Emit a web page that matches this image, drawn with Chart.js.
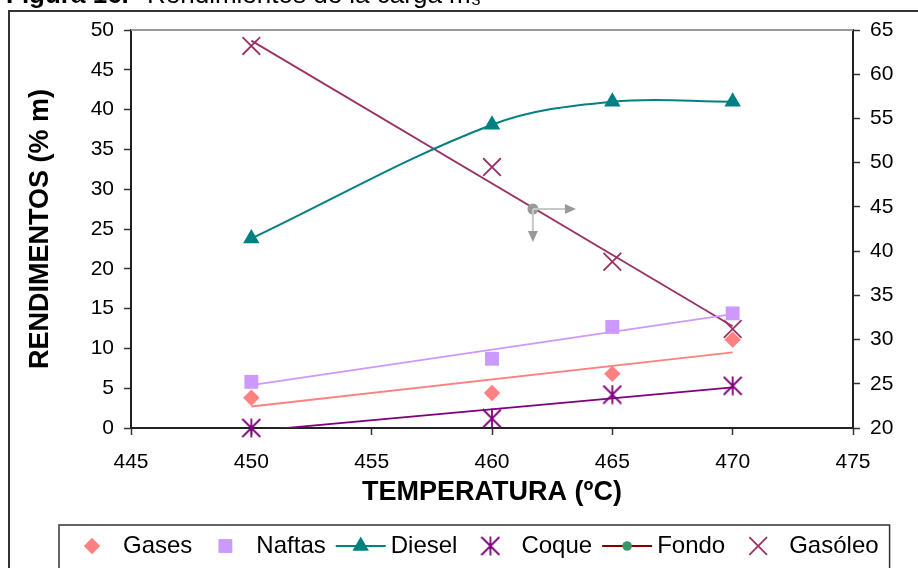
<!DOCTYPE html>
<html>
<head>
<meta charset="utf-8">
<script src="https://cdn.jsdelivr.net/npm/chart.js@4.4.1/dist/chart.umd.min.js"></script>
<style>
  html, body { margin: 0; padding: 0; background: #fff; }
  canvas { display: block; }
</style>
</head>
<body>
<canvas id="grafico" width="918" height="568"></canvas>
<script>
// valores (eje izq. % m, eje der. gasoleo)
const temps = [450, 460, 465, 470];
const gases = [3.8, 4.4, 6.8, 11.1];
const naftas = [5.8, 8.7, 12.7, 14.4];
const diesel = [23.8, 38.1, 41.0, 41.0];
const coque = [0, 1.2, 4.2, 5.3];
const fondoTemps = [450];
const fondo = [3.7];
const gasoleo = [63.2, 49.5, 38.8, 31.2];

// lineas de tendencia (extremos leidos)
const trendTemps = [450, 470];
const gasesTrend = [2.7, 9.5];
const naftasTrend = [5.4, 14.3];
const coqueTrend = [-0.4, 5.1];
const gasoleoTrend = [63.8, 31.5];

// el puntero gris que aparece en la captura
const cursorX = [461.7];
const cursorY = [27.5];

const FUENTE = "'Liberation Sans', Arial, sans-serif";

const pts = (xs, ys) => xs.map((x, i) => ({x: x, y: ys[i]}));

// asterisco de Excel: X + barra vertical
const asterisco = document.createElement('canvas');
asterisco.width = 20; asterisco.height = 20;
(function () {
  const c = asterisco.getContext('2d');
  c.strokeStyle = '#800080';
  c.lineWidth = 1.8;
  c.beginPath();
  c.moveTo(1, 1); c.lineTo(19, 19);
  c.moveTo(19, 1); c.lineTo(1, 19);
  c.moveTo(10, 0.5); c.lineTo(10, 19.5);
  c.stroke();
})();

function dibujarMarca(ctx, estilo, r, relleno, borde, x, y) {
  ctx.save();
  if (estilo instanceof HTMLCanvasElement) {
    ctx.drawImage(estilo, x - estilo.width / 2, y - estilo.height / 2);
    ctx.restore();
    return;
  }
  ctx.fillStyle = relleno;
  ctx.strokeStyle = borde;
  ctx.lineWidth = 1.8;
  ctx.beginPath();
  if (estilo === 'rectRot') {
    ctx.moveTo(x - r, y); ctx.lineTo(x, y - r); ctx.lineTo(x + r, y); ctx.lineTo(x, y + r);
    ctx.closePath(); ctx.fill();
  } else if (estilo === 'rect') {
    const s = r * Math.SQRT1_2;
    ctx.rect(x - s, y - s, 2 * s, 2 * s); ctx.fill();
  } else if (estilo === 'triangle') {
    ctx.moveTo(x, y - r); ctx.lineTo(x + 0.866 * r, y + 0.5 * r); ctx.lineTo(x - 0.866 * r, y + 0.5 * r);
    ctx.closePath(); ctx.fill();
  } else if (estilo === 'circle') {
    ctx.arc(x, y, r, 0, Math.PI * 2); ctx.fill();
  } else if (estilo === 'crossRot') {
    const d = r * Math.SQRT1_2;
    ctx.moveTo(x - d, y - d); ctx.lineTo(x + d, y + d);
    ctx.moveTo(x + d, y - d); ctx.lineTo(x - d, y + d);
    ctx.stroke();
  }
  ctx.restore();
}

const marco = {
  id: 'marco',
  beforeDraw(chart) {
    const ctx = chart.ctx;
    ctx.save();
    ctx.fillStyle = '#fff';
    ctx.fillRect(0, 0, chart.width, chart.height);
    // titulo de la figura, cortado arriba
    ctx.fillStyle = '#000';
    ctx.textBaseline = 'alphabetic';
    ctx.font = 'bold 26px ' + FUENTE;
    ctx.fillText('Figura 16.', 6, 3);
    ctx.font = '26px ' + FUENTE;
    ctx.fillText('Rendimientos de la carga m\u2083', 147, 3);
    // marco exterior
    ctx.strokeStyle = '#333';
    ctx.lineWidth = 2;
    ctx.beginPath();
    ctx.moveTo(9, chart.height + 5);
    ctx.lineTo(9, 11);
    ctx.lineTo(chart.width + 5, 11);
    ctx.stroke();
    ctx.restore();
  },
  beforeDatasetsDraw(chart) {
    const {ctx, chartArea: a} = chart;
    ctx.save();
    ctx.strokeStyle = '#999';
    ctx.lineWidth = 2;
    ctx.beginPath();
    ctx.moveTo(a.left, a.top);
    ctx.lineTo(a.right, a.top);
    ctx.stroke();
    ctx.restore();
  },
  afterDatasetsDraw(chart) {
    // flechas del puntero gris
    const ctx = chart.ctx;
    chart.data.datasets.forEach((ds, i) => {
      if (!ds.cursor) return;
      const p = chart.getDatasetMeta(i).data[0];
      ctx.save();
      ctx.strokeStyle = '#c8c8c8';
      ctx.fillStyle = '#999';
      ctx.lineWidth = 2;
      ctx.beginPath();
      ctx.moveTo(p.x, p.y); ctx.lineTo(p.x + 32, p.y);
      ctx.moveTo(p.x, p.y); ctx.lineTo(p.x, p.y + 22);
      ctx.stroke();
      ctx.beginPath();
      ctx.moveTo(p.x + 32, p.y - 5); ctx.lineTo(p.x + 43, p.y); ctx.lineTo(p.x + 32, p.y + 5);
      ctx.closePath(); ctx.fill();
      ctx.beginPath();
      ctx.moveTo(p.x - 5, p.y + 22); ctx.lineTo(p.x, p.y + 33); ctx.lineTo(p.x + 5, p.y + 22);
      ctx.closePath(); ctx.fill();
      ctx.restore();
    });
  },
  afterDraw(chart) {
    // leyenda con recuadro
    const ctx = chart.ctx;
    const izq = 59, arriba = 525, yc = 546;
    ctx.save();
    ctx.font = '24px ' + FUENTE;
    ctx.textBaseline = 'middle';
    ctx.fillStyle = '#000';
    let x = izq;
    chart.data.datasets.forEach(ds => {
      if (!ds.leyenda) return;
      let tx;
      if (ds.leyenda === 'punto') {
        const cx = x + 33;
        dibujarMarca(ctx, ds.pointStyle, ds.pointRadius, ds.pointBackgroundColor, ds.pointBorderColor, cx, yc);
        tx = cx + 31;
      } else {
        ctx.save();
        ctx.strokeStyle = ds.borderColor;
        ctx.lineWidth = 2;
        ctx.beginPath();
        ctx.moveTo(x + 10, yc); ctx.lineTo(x + 60, yc);
        ctx.stroke();
        ctx.restore();
        dibujarMarca(ctx, ds.pointStyle, ds.pointRadius, ds.pointBackgroundColor, ds.pointBorderColor, x + 35, yc);
        tx = x + 65;
      }
      ctx.fillStyle = '#000';
      ctx.fillText(ds.label, tx, yc);
      x = tx + ctx.measureText(ds.label).width;
    });
    ctx.strokeStyle = '#333';
    ctx.lineWidth = 1.5;
    ctx.strokeRect(izq, arriba, x + 11 - izq, 50);
    ctx.restore();
  }
};

const marcas = (label, ys, estilo, r, color, leyenda) => ({
  label: label,
  data: pts(temps, ys),
  showLine: false,
  pointStyle: estilo,
  pointRadius: r,
  pointBackgroundColor: color,
  pointBorderColor: color,
  pointBorderWidth: estilo === 'crossRot' ? 1.8 : 0,
  clip: false,
  leyenda: leyenda
});

const tendencia = (ys, color, eje) => ({
  label: '',
  data: pts(trendTemps, ys),
  yAxisID: eje || 'y',
  borderColor: color,
  borderWidth: 1.8,
  pointRadius: 0,
  tension: 0
});

new Chart(document.getElementById('grafico'), {
  type: 'line',
  data: {
    datasets: [
      marcas('Gases', gases, 'rectRot', 8.2, '#FF8080', 'punto'),
      marcas('Naftas', naftas, 'rect', 9.8, '#CC99FF', 'punto'),
      {
        label: 'Diesel',
        data: pts(temps, diesel),
        borderColor: '#008080',
        borderWidth: 2,
        tension: 0.35,
        pointStyle: 'triangle',
        pointRadius: 9.5,
        pointBackgroundColor: '#008080',
        pointBorderColor: '#008080',
        pointBorderWidth: 0,
        clip: false,
        leyenda: 'linea'
      },
      marcas('Coque', coque, asterisco, 10, '#800080', 'punto'),
      {
        label: 'Fondo',
        data: pts(fondoTemps, fondo),
        borderColor: '#800000',
        borderWidth: 2,
        pointStyle: 'circle',
        pointRadius: 4.8,
        pointBackgroundColor: '#339966',
        pointBorderColor: '#339966',
        pointBorderWidth: 0,
        clip: false,
        leyenda: 'linea'
      },
      Object.assign(marcas('Gasóleo', gasoleo, 'crossRot', 12.5, '#993366', 'punto'), {yAxisID: 'y2'}),
      {
        label: '',
        data: pts(cursorX, cursorY),
        showLine: false,
        pointStyle: 'circle',
        pointRadius: 5.5,
        pointBackgroundColor: '#999',
        pointBorderWidth: 0,
        cursor: true
      },
      tendencia(gasesTrend, '#FF8080'),
      tendencia(naftasTrend, '#CC99FF'),
      tendencia(coqueTrend, '#800080'),
      tendencia(gasoleoTrend, '#993366', 'y2')
    ]
  },
  options: {
    responsive: false,
    devicePixelRatio: 1,
    animation: false,
    events: [],
    layout: { padding: { top: 30, bottom: 50, left: 0, right: 0 } },
    plugins: { legend: { display: false }, tooltip: { enabled: false } },
    scales: {
      x: {
        type: 'linear',
        min: 445, max: 475,
        ticks: { stepSize: 5, color: '#000', padding: 15, font: { family: FUENTE, size: 21 } },
        grid: { drawOnChartArea: false, tickLength: 7, tickColor: '#333', tickWidth: 1.5 },
        border: { color: '#222', width: 2 },
        title: { display: true, text: 'TEMPERATURA (ºC)', color: '#000', padding: { top: 0, bottom: 9 },
                 font: { family: FUENTE, size: 27, weight: 'bold' } },
        afterFit(s) { s.height = 90; }
      },
      y: {
        position: 'left',
        min: 0, max: 50,
        ticks: { stepSize: 5, color: '#000', padding: 10, font: { family: FUENTE, size: 21 } },
        grid: { drawOnChartArea: false, tickLength: 7, tickColor: '#333', tickWidth: 1.5 },
        border: { color: '#222', width: 2 },
        title: { display: true, text: 'RENDIMENTOS (% m)', color: '#000', padding: { top: 24, bottom: 0 },
                 font: { family: FUENTE, size: 27, weight: 'bold' } },
        afterFit(s) { s.width = 131; }
      },
      y2: {
        position: 'right',
        min: 20, max: 65,
        ticks: { stepSize: 5, color: '#000', padding: 10, font: { family: FUENTE, size: 21 } },
        grid: { drawOnChartArea: false, tickLength: 7, tickColor: '#333', tickWidth: 1.5 },
        border: { color: '#222', width: 2 },
        afterFit(s) { s.width = 65; }
      }
    }
  },
  plugins: [marco]
});
</script>
</body>
</html>
